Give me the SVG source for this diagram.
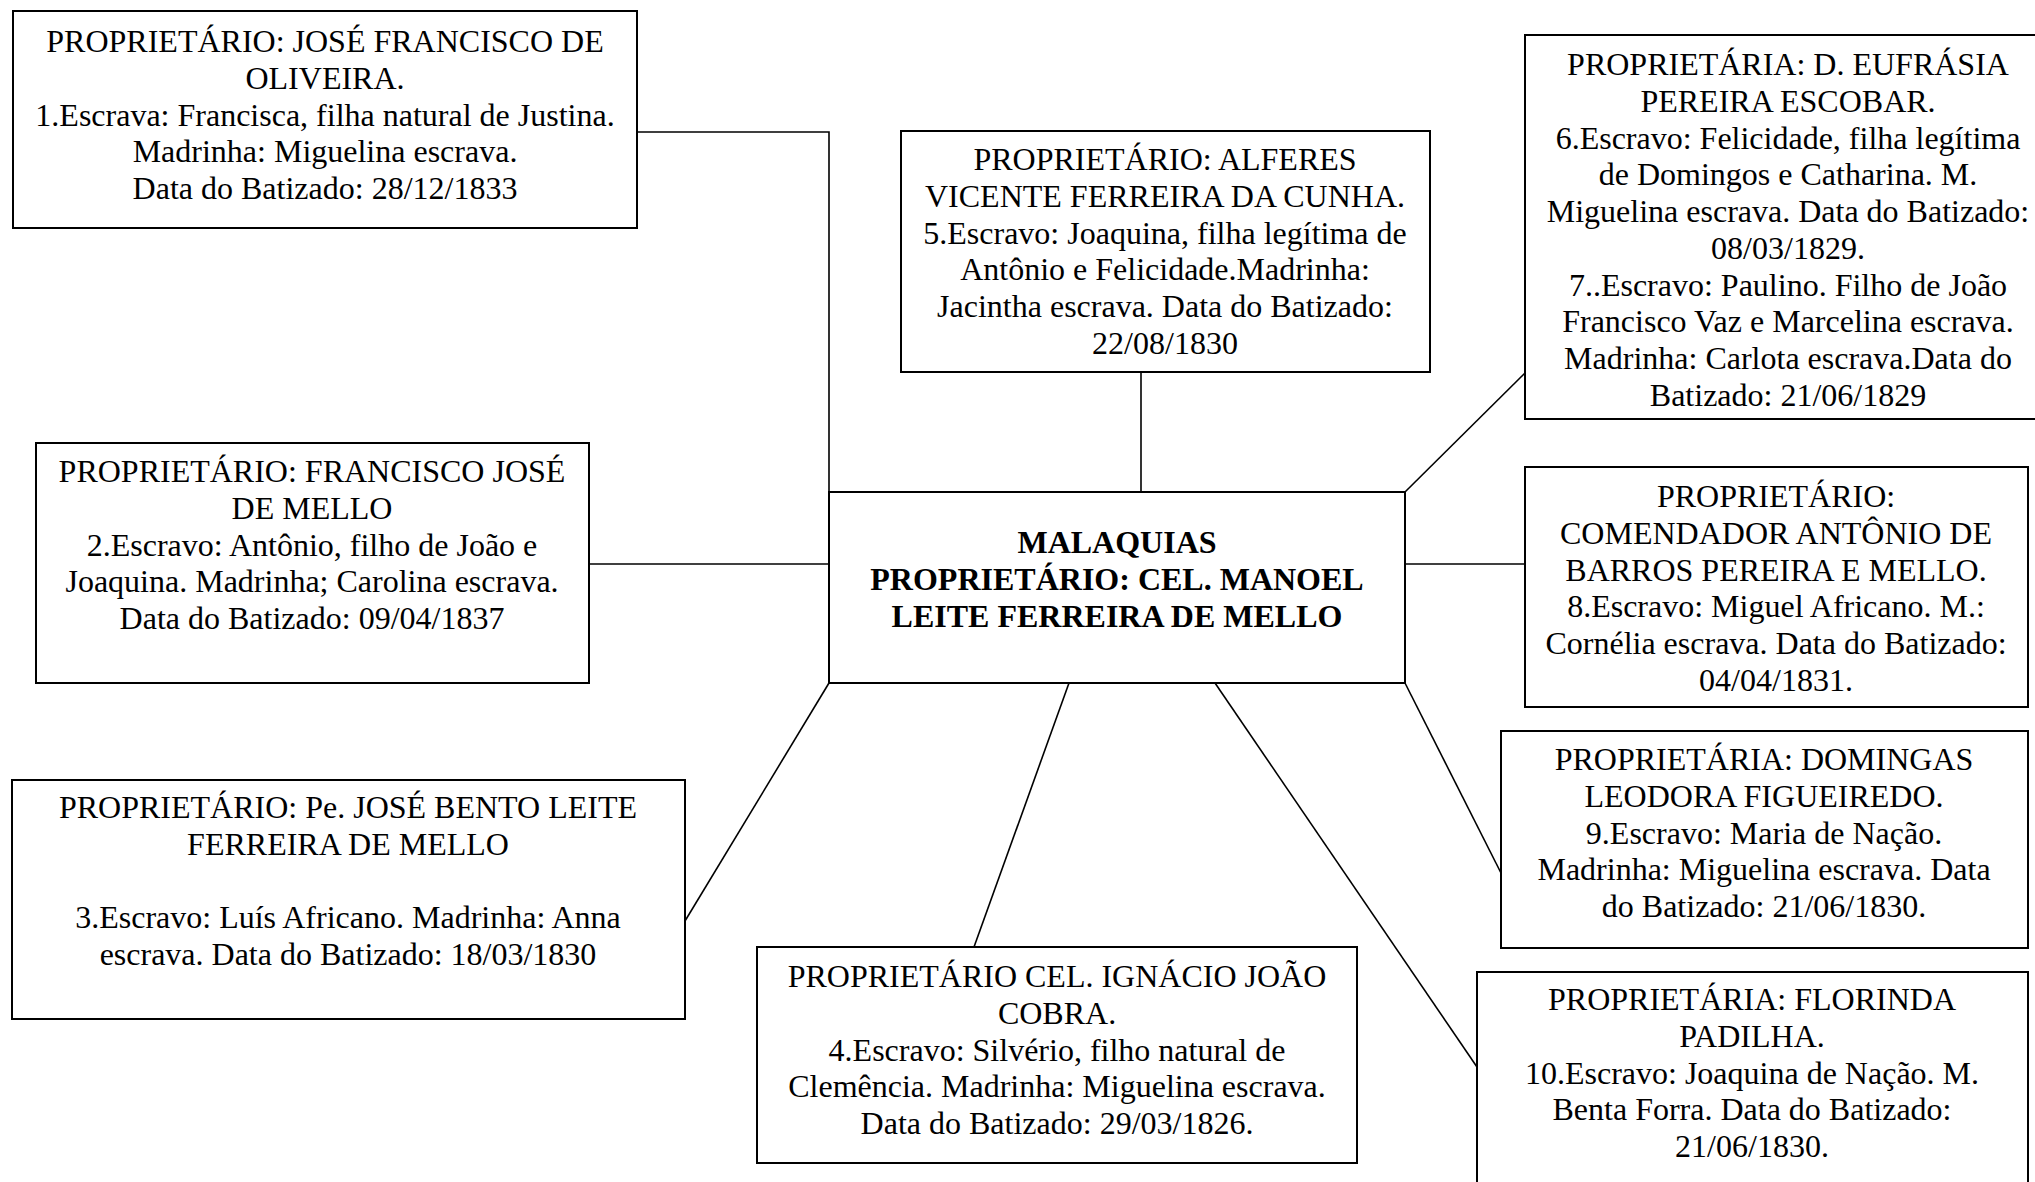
<svg xmlns="http://www.w3.org/2000/svg" width="2035" height="1182" viewBox="0 0 2035 1182">
<style>
.box{fill:#fff;stroke:#000;stroke-width:2}
.con{fill:none;stroke:#000;stroke-width:1.6}
text{font-family:"Liberation Serif","Times New Roman",serif;font-size:32px;fill:#000;text-anchor:middle}
.b{font-weight:bold}
</style>
<rect width="2035" height="1182" fill="#fff"/>
<g id="connectors">
<polyline class="con" points="637,132 829,132 829,492"/>
<line class="con" x1="589" y1="564" x2="829" y2="564"/>
<line class="con" x1="829" y1="683" x2="685" y2="921"/>
<line class="con" x1="1069" y1="683" x2="974" y2="947"/>
<line class="con" x1="1141" y1="372" x2="1141" y2="492"/>
<line class="con" x1="1405" y1="492" x2="1525" y2="373"/>
<line class="con" x1="1405" y1="564" x2="1525" y2="564"/>
<line class="con" x1="1405" y1="683" x2="1501" y2="873"/>
<line class="con" x1="1215" y1="683" x2="1477" y2="1067"/>
</g>
<g id="center">
<rect class="box" x="829" y="492" width="576" height="191"/>
<text class="b" x="1117" y="553">MALAQUIAS</text>
<text class="b" x="1117" y="590">PROPRIETÁRIO: CEL. MANOEL</text>
<text class="b" x="1117" y="627">LEITE FERREIRA DE MELLO</text>
</g>
<g id="n1">
<rect class="box" x="13" y="11" width="624" height="217"/>
<text x="325" y="52">PROPRIETÁRIO: JOSÉ FRANCISCO DE</text>
<text x="325" y="89">OLIVEIRA.</text>
<text x="325" y="126">1.Escrava: Francisca, filha natural de Justina.</text>
<text x="325" y="162">Madrinha: Miguelina escrava.</text>
<text x="325" y="199">Data do Batizado: 28/12/1833</text>
</g>
<g id="n2">
<rect class="box" x="36" y="443" width="553" height="240"/>
<text x="312" y="482">PROPRIETÁRIO: FRANCISCO JOSÉ</text>
<text x="312" y="519">DE MELLO</text>
<text x="312" y="556">2.Escravo: Antônio, filho de João e</text>
<text x="312" y="592">Joaquina. Madrinha; Carolina escrava.</text>
<text x="312" y="629">Data do Batizado: 09/04/1837</text>
</g>
<g id="n3">
<rect class="box" x="12" y="780" width="673" height="239"/>
<text x="348" y="818">PROPRIETÁRIO: Pe. JOSÉ BENTO LEITE</text>
<text x="348" y="855">FERREIRA DE MELLO</text>
<text x="348" y="928">3.Escravo: Luís Africano. Madrinha: Anna</text>
<text x="348" y="965">escrava. Data do Batizado: 18/03/1830</text>
</g>
<g id="n4">
<rect class="box" x="757" y="947" width="600" height="216"/>
<text x="1057" y="987">PROPRIETÁRIO CEL. IGNÁCIO JOÃO</text>
<text x="1057" y="1024">COBRA.</text>
<text x="1057" y="1061">4.Escravo: Silvério, filho natural de</text>
<text x="1057" y="1097">Clemência. Madrinha: Miguelina escrava.</text>
<text x="1057" y="1134">Data do Batizado: 29/03/1826.</text>
</g>
<g id="n5">
<rect class="box" x="901" y="131" width="529" height="241"/>
<text x="1165" y="170">PROPRIETÁRIO: ALFERES</text>
<text x="1165" y="207">VICENTE FERREIRA DA CUNHA.</text>
<text x="1165" y="244">5.Escravo: Joaquina, filha legítima de</text>
<text x="1165" y="280">Antônio e Felicidade.Madrinha:</text>
<text x="1165" y="317">Jacintha escrava. Data do Batizado:</text>
<text x="1165" y="354">22/08/1830</text>
</g>
<g id="n6">
<rect class="box" x="1525" y="35" width="525" height="384"/>
<text x="1788" y="75">PROPRIETÁRIA: D. EUFRÁSIA</text>
<text x="1788" y="112">PEREIRA ESCOBAR.</text>
<text x="1788" y="149">6.Escravo: Felicidade, filha legítima</text>
<text x="1788" y="185">de Domingos e Catharina. M.</text>
<text x="1788" y="222">Miguelina escrava. Data do Batizado:</text>
<text x="1788" y="259">08/03/1829.</text>
<text x="1788" y="296">7..Escravo: Paulino. Filho de João</text>
<text x="1788" y="332">Francisco Vaz e Marcelina escrava.</text>
<text x="1788" y="369">Madrinha: Carlota escrava.Data do</text>
<text x="1788" y="406">Batizado: 21/06/1829</text>
</g>
<g id="n8">
<rect class="box" x="1525" y="467" width="503" height="240"/>
<text x="1776" y="507">PROPRIETÁRIO:</text>
<text x="1776" y="544">COMENDADOR ANTÔNIO DE</text>
<text x="1776" y="581">BARROS PEREIRA E MELLO.</text>
<text x="1776" y="617">8.Escravo: Miguel Africano. M.:</text>
<text x="1776" y="654">Cornélia escrava. Data do Batizado:</text>
<text x="1776" y="691">04/04/1831.</text>
</g>
<g id="n9">
<rect class="box" x="1501" y="731" width="527" height="217"/>
<text x="1764" y="770">PROPRIETÁRIA: DOMINGAS</text>
<text x="1764" y="807">LEODORA FIGUEIREDO.</text>
<text x="1764" y="844">9.Escravo: Maria de Nação.</text>
<text x="1764" y="880">Madrinha: Miguelina escrava. Data</text>
<text x="1764" y="917">do Batizado: 21/06/1830.</text>
</g>
<g id="n10">
<rect class="box" x="1477" y="972" width="551" height="230"/>
<text x="1752" y="1010">PROPRIETÁRIA: FLORINDA</text>
<text x="1752" y="1047">PADILHA.</text>
<text x="1752" y="1084">10.Escravo: Joaquina de Nação. M.</text>
<text x="1752" y="1120">Benta Forra. Data do Batizado:</text>
<text x="1752" y="1157">21/06/1830.</text>
</g>
</svg>
